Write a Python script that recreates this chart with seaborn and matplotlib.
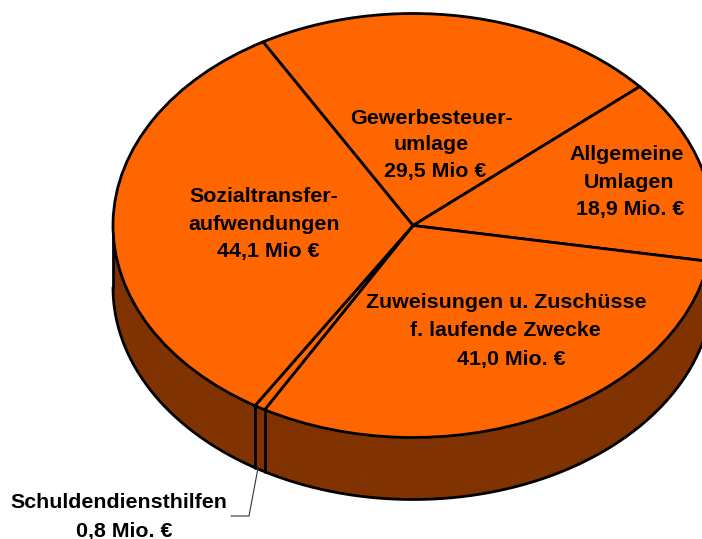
import numpy as np
import matplotlib.pyplot as plt
import seaborn as sns

sns.set_theme(style='white')
plt.rcParams['font.family'] = ['Liberation Sans', 'DejaVu Sans']

# clockwise from the upper left edge
categories = ['Gewerbesteuerumlage', 'Allgemeine Umlagen', 'Zuweisungen u. Zuschüsse',
              'Schuldendiensthilfen', 'Sozialtransferaufwendungen']
values = [29.5, 18.9, 41.0, 0.8, 44.1]

label_lines = [
    ['Gewerbesteuer-', 'umlage', '29,5 Mio €'],
    ['Allgemeine', 'Umlagen', '18,9 Mio. €'],
    ['Zuweisungen u. Zuschüsse', 'f. laufende Zwecke', '41,0 Mio. €'],
    ['Schuldendiensthilfen', '0,8 Mio. €'],
    ['Sozialtransfer-', 'aufwendungen', '44,1 Mio €'],
]
# line centres in pixels
label_pos = [
    [(431, 118), (431, 145), (435, 172)],
    [(627, 154), (629, 182), (630, 209)],
    [(506, 302), (505, 330), (511, 359)],
    [(119, 503), (124, 531)],
    [(264, 196), (264, 224), (268, 252)],
]

top_color = '#FF6600'
side_color = '#803300'
W, H = 702, 539
cx, cy, rx, ry = 413, 225.5, 300, 212
depth = 62 / ry
start = 120

fig = plt.figure(figsize=(W / 100, H / 100), dpi=100)
ax = fig.add_axes([0, 0, 1, 1])

# side wall, only the front half shows
t = np.linspace(-np.pi, 0, 400)
ax.fill_between(np.cos(t), np.sin(t), np.sin(t) - depth, color=side_color, lw=0, zorder=1)
ax.plot(np.cos(t), np.sin(t) - depth, color='black', lw=2, zorder=2)
for x0 in [-1, 1]:
    ax.plot([x0, x0], [0, -depth], color='black', lw=2, zorder=2)

# wall edges at the slice borders
borders = start - np.cumsum(values) / sum(values) * 360
for b in np.radians(borders):
    if np.sin(b) < 0:
        ax.plot([np.cos(b)] * 2, [np.sin(b), np.sin(b) - depth], color='black', lw=2, zorder=2)

wedges, _ = ax.pie(values, startangle=start, counterclock=False, colors=[top_color] * len(values),
                   wedgeprops={'edgecolor': 'black', 'linewidth': 2, 'zorder': 3})

# squash the round pie into the tilted ellipse
ax.set_aspect('auto')
ax.set_xlim(-cx / rx, (W - cx) / rx)
ax.set_ylim(-(H - cy) / ry, cy / ry)
ax.axis('off')

for lines, pos in zip(label_lines, label_pos):
    for line, (px, py) in zip(lines, pos):
        fig.text(px / W, 1 - py / H, line, ha='center', va='center', fontsize=15.4,
                 fontweight='bold', color='black', zorder=5)

# leader line for the thin slice
fig.add_artist(plt.Line2D(np.array([258, 249, 231]) / W, 1 - np.array([468, 516, 516]) / H,
                          color='#333333', lw=0.8))

fig.savefig('out.png', dpi=100)
